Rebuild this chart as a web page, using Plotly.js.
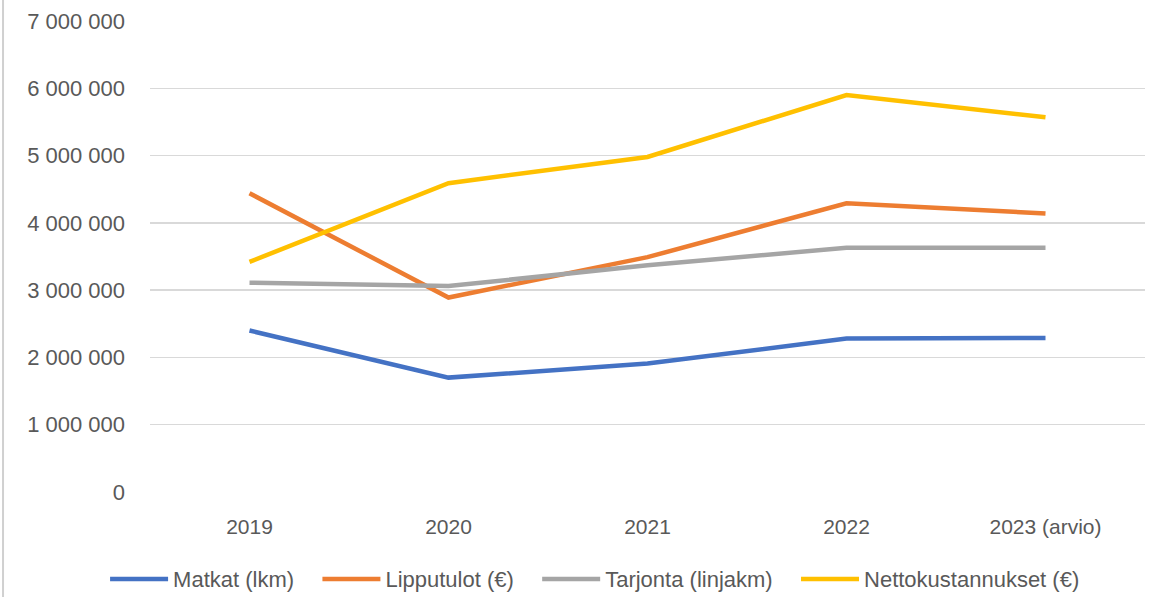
<!DOCTYPE html>
<html>
<head>
<meta charset="utf-8">
<script src="https://cdn.plot.ly/plotly-3.0.1.min.js"></script>
<style>html,body{margin:0;padding:0;background:#fff;}#chart{width:1160px;height:597px;}</style>
</head>
<body>
<div id="chart"></div>
<script>
const years = ["2019", "2020", "2021", "2022", "2023 (arvio)"];
const matkat = [2400000, 1700000, 1910000, 2280000, 2290000];
const lipputulot = [4440000, 2890000, 3490000, 4290000, 4140000];
const tarjonta = [3110000, 3060000, 3370000, 3630000, 3630000];
const nettokustannukset = [3420000, 4590000, 4980000, 5900000, 5570000];
const seriesNames = ["Matkat (lkm)", "Lipputulot (€)", "Tarjonta (linjakm)", "Nettokustannukset (€)"];
const yTickVals = [0, 1000000, 2000000, 3000000, 4000000, 5000000, 6000000, 7000000];
const yTickText = ["0", "1 000 000", "2 000 000", "3 000 000", "4 000 000", "5 000 000", "6 000 000", "7 000 000"];

const colors = ["#4472C4", "#ED7D31", "#A5A5A5", "#FFC000"];
const seriesData = [matkat, lipputulot, tarjonta, nettokustannukset];
const pad = "\u00a0\u00a0\u00a0";

const traces = seriesData.map((vals, i) => ({
  type: "scatter",
  mode: "lines",
  x: years,
  y: vals,
  name: seriesNames[i] + (i < seriesData.length - 1 ? pad : ""),
  line: {color: colors[i], width: 4.5},
  hoverinfo: "x+y+name"
}));

const layout = {
  width: 1160,
  height: 597,
  margin: {l: 150, r: 15, t: 21, b: 105},
  paper_bgcolor: "#ffffff",
  plot_bgcolor: "#ffffff",
  font: {family: "Liberation Sans, Arial, sans-serif", color: "#595959"},
  xaxis: {
    type: "category",
    range: [-0.5, 4.5],
    showgrid: false,
    zeroline: false,
    showline: false,
    ticks: "",
    ticklabelstandoff: 20,
    tickfont: {family: "Liberation Sans, Arial, sans-serif", size: 21, color: "#595959"}
  },
  yaxis: {
    range: [0, 7000000],
    tickvals: yTickVals,
    ticktext: yTickText,
    showgrid: true,
    gridcolor: "#d9d9d9",
    gridwidth: 1.3,
    zeroline: false,
    showline: false,
    ticks: "",
    ticklabelstandoff: 24,
    tickfont: {size: 22, color: "#595959"}
  },
  showlegend: true,
  legend: {
    orientation: "h",
    xref: "container",
    yref: "container",
    x: 0.513,
    y: 0.03,
    xanchor: "center",
    yanchor: "middle",
    font: {size: 22, color: "#595959"},
    itemwidth: 58,
    tracegroupgap: 0
  },
  shapes: [{
    type: "line",
    xref: "paper",
    yref: "paper",
    x0: -0.1477, x1: -0.1477,
    y0: -0.25, y1: 1.05,
    line: {color: "#d0d0d0", width: 2}
  }]
};

Plotly.newPlot("chart", traces, layout, {displayModeBar: false, staticPlot: true});
</script>
</body>
</html>
